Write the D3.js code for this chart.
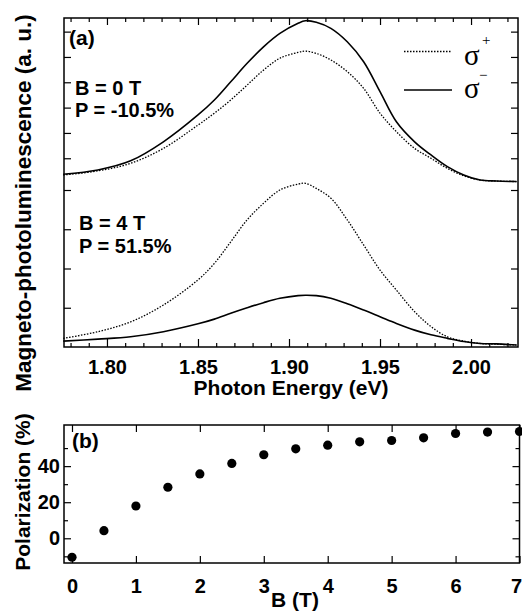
<!DOCTYPE html>
<html><head><meta charset="utf-8">
<script src="https://cdn.jsdelivr.net/npm/d3@7"></script>
<style>body{margin:0;background:#fff}svg{display:block}</style></head>
<body><svg id="c" width="522" height="614"></svg>
<script>
// ---- data ----
const energy = [1.776,1.795,1.813,1.831,1.850,1.859,1.868,1.877,1.886,1.895,1.905,1.909,1.915,1.923,1.932,1.941,1.950,1.959,1.969,1.978,1.987,1.996,2.005,2.014,2.025];
// B = 0 T (upper pair, upper scale)
const b0SigmaPlus  = [0.34,0.50,0.80,1.39,2.31,2.78,3.30,3.89,4.48,4.95,5.18,5.23,5.14,4.88,4.42,3.76,2.78,2.05,1.39,1.00,0.60,0.31,0.14,0.10,0.08];
const b0SigmaMinus = [0.37,0.54,0.90,1.65,2.71,3.30,4.02,4.75,5.40,5.93,6.33,6.43,6.37,6.13,5.60,4.81,3.63,2.44,1.65,1.13,0.67,0.34,0.14,0.10,0.08];
// B = 4 T (lower pair, lower scale)
const b4SigmaPlus  = [0.22,0.39,0.64,1.07,1.71,2.13,2.68,3.24,3.66,4.00,4.15,4.17,4.04,3.79,3.24,2.60,1.96,1.45,0.90,0.52,0.26,0.15,0.09,0.07,0.05];
const b4SigmaMinus = [0.15,0.20,0.26,0.39,0.59,0.71,0.86,1.00,1.13,1.24,1.31,1.32,1.31,1.24,1.10,0.94,0.77,0.60,0.43,0.31,0.22,0.14,0.09,0.08,0.05];

const fieldB = [0,0.5,1,1.5,2,2.5,3,3.5,4,4.5,5,5.5,6,6.5,7];
const polarization = [-10.5,4.2,17.9,28.3,35.7,41.5,46.3,49.6,51.6,53.5,54.2,55.7,58.1,58.9,59.2];

const energyTicks = [1.80,1.85,1.90,1.95,2.00];
const energyMinorTicks = [1.78,1.79,1.81,1.82,1.83,1.84,1.86,1.87,1.88,1.89,1.91,1.92,1.93,1.94,1.96,1.97,1.98,1.99,2.01,2.02];
const upperTicks = [1,2,3,4,5,6];
const lowerTicks = [1,2,3,4];
const fieldTicks = [0,1,2,3,4,5,6,7];
const polTicks = [0,20,40];
const polMinorTicks = [-10,10,30,50];

// ---- drawing ----
const svg = d3.select("#c");
svg.append("rect").attr("width",522).attr("height",614).attr("fill","#fff");
const FONT = "'Liberation Sans', Arial, Helvetica, sans-serif";

// Panel (a)
const A = {l:64, r:518, t:18, b:347, mid:190};
const x = d3.scaleLinear().domain([1.7764, 2.0258]).range([A.l, A.r]);
const yU = d3.scaleLinear().domain([-0.253, 6.538]).range([A.mid, A.t]);
const yL = d3.scaleLinear().domain([0, 4]).range([A.b, A.mid]);

function styleAxis(g, labels) {
  g.select(".domain").remove();
  g.selectAll(".tick line").attr("stroke","#000").attr("stroke-width",1.2);
  g.selectAll(".tick text").attr("fill","#000").style("font-family",FONT)
    .style("font-weight","bold").style("font-size","20px");
  if (!labels) g.selectAll(".tick text").remove();
}

svg.append("g").attr("transform",`translate(0,${A.b})`)
  .call(d3.axisBottom(x).tickValues(energyTicks).tickSize(-8).tickPadding(12.5).tickFormat(d3.format(".2f")))
  .call(g=>styleAxis(g,true));
svg.append("g").attr("transform",`translate(0,${A.b})`)
  .call(d3.axisBottom(x).tickValues(energyMinorTicks).tickSize(-4).tickFormat(""))
  .call(g=>styleAxis(g,false));
svg.append("g").attr("transform",`translate(0,${A.t})`)
  .call(d3.axisTop(x).tickValues(energyTicks).tickSize(-7).tickFormat(""))
  .call(g=>styleAxis(g,false));
svg.append("g").attr("transform",`translate(0,${A.t})`)
  .call(d3.axisTop(x).tickValues(energyMinorTicks).tickSize(-4).tickFormat(""))
  .call(g=>styleAxis(g,false));
[[d3.axisLeft, A.l],[d3.axisRight, A.r]].forEach(([ax, pos])=>{
  svg.append("g").attr("transform",`translate(${pos},0)`)
    .call(ax(yU).tickValues(upperTicks).tickSize(-7).tickFormat(""))
    .call(g=>styleAxis(g,false));
  svg.append("g").attr("transform",`translate(${pos},0)`)
    .call(ax(yL).tickValues(lowerTicks).tickSize(-7).tickFormat(""))
    .call(g=>styleAxis(g,false));
});

const lineU = d3.line().x((d,i)=>x(energy[i])).y(d=>yU(d)).curve(d3.curveCatmullRom.alpha(0.5));
const lineL = d3.line().x((d,i)=>x(energy[i])).y(d=>yL(d)).curve(d3.curveCatmullRom.alpha(0.5));
const dotted = {"stroke-dasharray":"1.5,1.5","stroke-width":1.3};
const solid = {"stroke-width":1.6};
function path(data, gen, st) {
  const p = svg.append("path").attr("d", gen(data)).attr("fill","none").attr("stroke","#000");
  Object.entries(st).forEach(([k,v])=>p.attr(k,v));
}
path(b0SigmaPlus, lineU, dotted);
path(b0SigmaMinus, lineU, solid);
path(b4SigmaPlus, lineL, dotted);
path(b4SigmaMinus, lineL, solid);

svg.append("rect").attr("x",A.l).attr("y",A.t).attr("width",A.r-A.l).attr("height",A.b-A.t)
  .attr("fill","none").attr("stroke","#000").attr("stroke-width",1.5);

function label(txt, px, py, size, opts={}) {
  const t = svg.append("text").attr("x",px).attr("y",py).text(txt)
    .attr("fill","#000").style("font-family",opts.family||FONT)
    .style("font-weight",opts.weight||"bold").style("font-size",size+"px");
  if (opts.anchor) t.attr("text-anchor",opts.anchor);
  if (opts.rotate) t.attr("transform",`rotate(-90,${px},${py})`);
  return t;
}
label("(a)", 69, 45, 21);
label("B = 0 T", 75, 95, 20);
label("P = -10.5%", 75, 117, 20);
label("B = 4 T", 79, 230, 20);
label("P = 51.5%", 79, 253, 20);

// legend
const lx0 = 404, lx1 = 452;
svg.append("line").attr("x1",lx0).attr("x2",lx1).attr("y1",51.5).attr("y2",51.5)
  .attr("stroke","#000").attr("stroke-dasharray","1.5,1.5").attr("stroke-width",1.3);
svg.append("line").attr("x1",lx0).attr("x2",lx1).attr("y1",90).attr("y2",90)
  .attr("stroke","#000").attr("stroke-width",1.6);
const SERIF = "'Liberation Serif','Times New Roman',serif";
label("σ", 464, 65, 29, {family:SERIF, weight:"normal"});
label("+", 482, 45, 15, {family:SERIF, weight:"normal"});
label("σ", 464, 98, 29, {family:SERIF, weight:"normal"});
label("−", 479, 80, 15, {family:SERIF, weight:"normal"});

label("Photon Energy (eV)", 291, 395, 21, {anchor:"middle"});
label("Magneto-photoluminescence (a. u.)", 31, 203, 22.5, {anchor:"middle", rotate:true});

// Panel (b)
const B = {l:64, r:519.5, t:425, b:563};
const xb = d3.scaleLinear().domain([-0.125, 7]).range([B.l, B.r]);
const yb = d3.scaleLinear().domain([-13.7, 62.8]).range([B.b, B.t]);

svg.append("g").attr("transform",`translate(0,${B.b})`)
  .call(d3.axisBottom(xb).tickValues(fieldTicks).tickSize(-7).tickPadding(16).tickFormat(d3.format("d")))
  .call(g=>styleAxis(g,true))
  .call(g=>g.selectAll(".tick text").filter(d=>d===7).attr("dx",-3.5));
svg.append("g").attr("transform",`translate(0,${B.t})`)
  .call(d3.axisTop(xb).tickValues(fieldTicks).tickSize(-7).tickFormat(""))
  .call(g=>styleAxis(g,false));
svg.append("g").attr("transform",`translate(${B.l},0)`)
  .call(d3.axisLeft(yb).tickValues(polTicks).tickSize(-7).tickPadding(4).tickFormat(d3.format("d")))
  .call(g=>styleAxis(g,true));
svg.append("g").attr("transform",`translate(${B.l},0)`)
  .call(d3.axisLeft(yb).tickValues(polMinorTicks).tickSize(-4).tickFormat(""))
  .call(g=>styleAxis(g,false));
svg.append("g").attr("transform",`translate(${B.r},0)`)
  .call(d3.axisRight(yb).tickValues(polTicks).tickSize(-7).tickFormat(""))
  .call(g=>styleAxis(g,false));
svg.append("g").attr("transform",`translate(${B.r},0)`)
  .call(d3.axisRight(yb).tickValues(polMinorTicks).tickSize(-4).tickFormat(""))
  .call(g=>styleAxis(g,false));

svg.append("g").selectAll("circle").data(fieldB).join("circle")
  .attr("cx",d=>xb(d)).attr("cy",(d,i)=>yb(polarization[i])).attr("r",4.6).attr("fill","#000");

svg.append("rect").attr("x",B.l).attr("y",B.t).attr("width",B.r-B.l).attr("height",B.b-B.t)
  .attr("fill","none").attr("stroke","#000").attr("stroke-width",1.5);

label("(b)", 72, 448, 21);
label("B (T)", 295, 607, 21, {anchor:"middle"});
label("Polarization (%)", 30, 492, 21, {anchor:"middle", rotate:true});
</script>
</body></html>
